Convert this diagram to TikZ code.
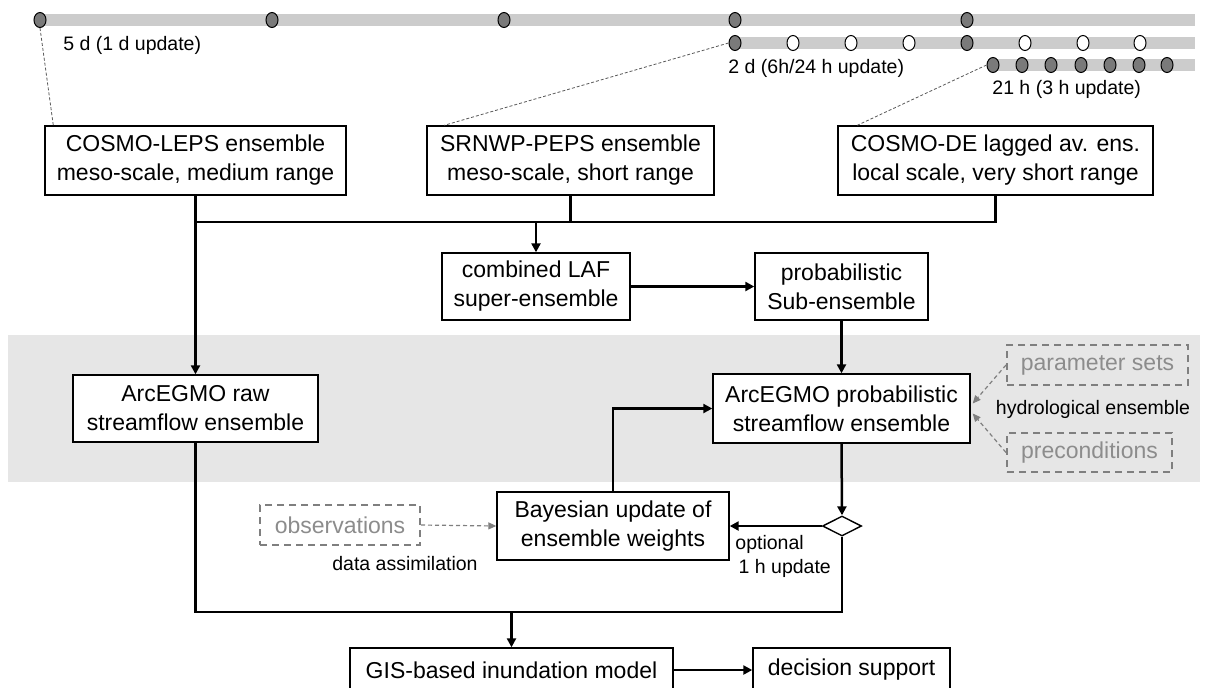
\documentclass[tikz,border=0pt]{standalone}
\usepackage{fontspec}
\setmainfont{Liberation Sans}
\usetikzlibrary{arrows.meta,shapes.geometric}
\definecolor{bandgrey}{HTML}{E6E6E6}
\definecolor{bargrey}{HTML}{CCCCCC}
\definecolor{dotgrey}{HTML}{7A7A7A}
\definecolor{dashgrey}{HTML}{7F7F7F}
\definecolor{textgrey}{HTML}{8C8C8C}
\begin{document}
\begin{tikzpicture}[x=0.5pt,y=-0.5pt,
 box/.style={draw=black, line width=0.7pt, fill=white, inner sep=0pt, align=center, font=\fontsize{11.5}{14.5}\selectfont},
 optbox/.style={draw=dashgrey, dash pattern=on 3.5pt off 2.5pt, line width=1pt, inner sep=0pt, text=textgrey, font=\fontsize{11.5}{14}\selectfont},
 flow/.style={line width=1.25pt, -{Triangle[length=4.5pt,width=4.5pt]}},
 conn/.style={line width=1.25pt},
 weak/.style={draw=dashgrey, dash pattern=on 2pt off 1.5pt, line width=0.6pt, -{Triangle[length=4pt,width=3.5pt]}},
 guide/.style={draw=black!65, dash pattern=on 1.5pt off 1pt, line width=0.4pt},
 bar/.style={draw=bargrey, line width=6pt},
 dot/.style={ellipse, draw=black, line width=0.5pt, fill=dotgrey, minimum width=6pt, minimum height=7.5pt, inner sep=0pt},
 hollow/.style={dot, fill=white},
 small/.style={font=\fontsize{9.75}{12}\selectfont, inner sep=0pt},
]
\useasboundingbox (0,0) rectangle (1210,687);
\fill[white] (0,0) rectangle (1210,687);
% grey band
\fill[bandgrey] (8,335) rectangle (1200,482);

% timelines
\draw[bar] (40,20) -- (1195,20);
\draw[bar] (735,43) -- (1195,43);
\draw[bar] (993,65) -- (1195,65);
\foreach \x [count=\i] in {40,272,504,735,967} \node[dot] (a\i) at (\x,20) {};
\foreach \x/\s [count=\i] in {735/dot,793/hollow,851/hollow,909/hollow,967/dot,1025/hollow,1083/hollow,1140/hollow} \node[\s] (b\i) at (\x,43) {};
\foreach \x [count=\i] in {993,1022,1051,1081,1110,1139,1167} \node[dot] (c\i) at (\x,65) {};
\node[small, anchor=west] (l5d) at (63,45) {5 d (1 d update)};
\node[small, anchor=west] (l2d) at (728,68) {2 d (6h/24 h update)};
\node[small, anchor=west] (l21h) at (992,89) {21 h (3 h update)};

% boxes
\node[box, minimum width=150.5pt, minimum height=34.5pt] (leps) at (195.5,160.5) {COSMO-LEPS ensemble\\meso-scale, medium range};
\node[box, minimum width=143.5pt, minimum height=34.5pt] (srnwp) at (570.5,160.5) {SRNWP-PEPS ensemble\\meso-scale, short range};
\node[box, minimum width=157.5pt, minimum height=34.5pt] (cosmode) at (995.5,160.5) {COSMO-DE lagged av. ens.\\local scale, very short range};
\node[box, minimum width=94pt, minimum height=33.5pt] (laf) at (536,286.5) {combined LAF\\super-ensemble};
\node[box, minimum width=86.5pt, minimum height=33.5pt] (subens) at (841.5,286.5) {probabilistic\\Sub-ensemble};
\node[box, minimum width=122.5pt, minimum height=33.5pt] (raw) at (195.5,408.5) {ArcEGMO raw\\streamflow ensemble};
\node[box, minimum width=128.5pt, minimum height=34.5pt] (prob) at (841.5,408.5) {ArcEGMO probabilistic\\streamflow ensemble};
\node[optbox, minimum width=90.5pt, minimum height=20pt] (params) at (1097.5,365) {parameter sets};
\node[optbox, minimum width=82.5pt, minimum height=19.5pt] (precond) at (1089.5,452.5) {preconditions};
\node[small] (hydro) at (1093,409) {hydrological ensemble};
\node[box, minimum width=116pt, minimum height=34pt] (bayes) at (613,526) {Bayesian update of\\ensemble weights};
\node[optbox, minimum width=80pt, minimum height=20pt] (obs) at (340,525) {observations};
\node[small] (da) at (405,564) {data assimilation};
\node[diamond, draw=black, line width=0.7pt, fill=white, minimum width=19.5pt, minimum height=10pt, inner sep=0pt, aspect=2] (diam) at (842,526) {};
\node[small, anchor=west, align=left] (opt) at (735,556) {optional\\\,1 h update};
\node[box, minimum width=161.5pt, minimum height=22pt] (gis) at (511.5,670) {GIS-based inundation model};
\node[box, minimum width=98.5pt, minimum height=22pt] (dec) at (851.5,670) {decision support};

\coordinate (bus) at (0,222);
\coordinate (bustwo) at (0,612);

% guides
\draw[guide] (a1.south) -- ([xshift=4.5pt]leps.north west);
\draw[guide] (b1.west) -- ([xshift=9pt]srnwp.north west);
\draw[guide] (c1.west) -- ([xshift=10pt]cosmode.north west);

% connectors
\draw[flow] (leps.south) -- (raw.north);
\draw[conn] (srnwp.south) -- (srnwp.south |- bus);
\draw[conn] (cosmode.south) -- (cosmode.south |- bus) -- (leps.south |- bus);
\draw[flow] (laf.north |- bus) -- (laf.north);
\draw[flow] (laf.east) -- (subens.west);
\draw[flow] (subens.south) -- (prob.north);
\draw[flow] (prob.south) -- (diam.north);
\draw[flow] (diam.west) -- (bayes.east);
\draw[flow] (bayes.north) |- (prob.west);
\draw[conn] (raw.south) -- (raw.south |- bustwo) -- (diam.south |- bustwo) -- (diam.south);
\draw[flow] (gis.north |- bustwo) -- (gis.north);
\draw[flow] (gis.east) -- (dec.west);
\draw[weak] (obs.east) -- (bayes.west);
\draw[weak] (params.west) -- ([xshift=1pt,yshift=2.5pt]prob.east);
\draw[weak] (precond.west) -- ([xshift=1pt,yshift=-2.5pt]prob.east);
\end{tikzpicture}
\end{document}
